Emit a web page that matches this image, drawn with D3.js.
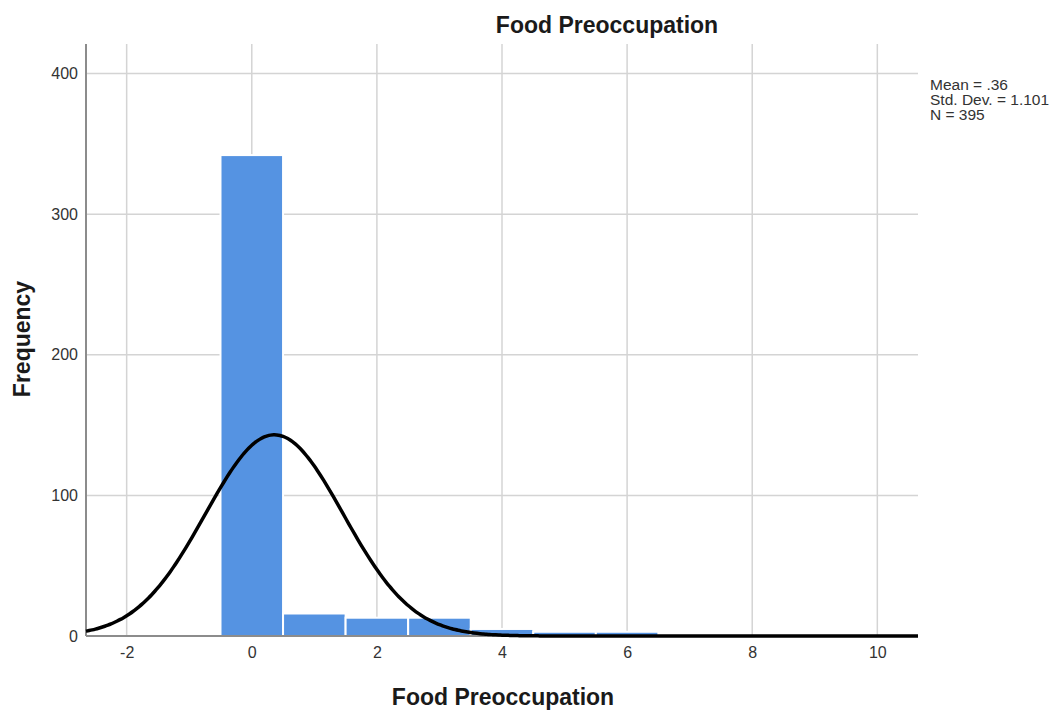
<html>
<head>
<meta charset="utf-8">
<title>Food Preoccupation</title>
<script type="text/javascript" src="https://cdn.jsdelivr.net/npm/d3@7"></script>
<style type="text/css">
body { margin: 0; background: white; }
text { font-family: "Liberation Sans", Arial, sans-serif; }
.grid line { stroke: #d4d4d4; stroke-width: 1.5px; }
.axis path, .axis line { display: none; }
.axis text { fill: #333; font-size: 16px; font-family: "Liberation Sans", Arial, sans-serif; }
</style>
</head>
<body>
<script>
// histogram bins (bin width 1, centred on integers)
var binCenters = [0, 1, 2, 3, 4, 5, 6];
var frequencies = [342, 16, 13, 13, 5, 3, 3];
var xTicks = [-2, 0, 2, 4, 6, 8, 10];
var yTicks = [0, 100, 200, 300, 400];
var stats = ["Mean = .36", "Std. Dev. = 1.101", "N = 395"];
var mean = 0.36, sd = 1.101, n = 395, binWidth = 1;

var width = 1057, height = 713;
var plotLeft = 86, plotRight = 918, plotTop = 44, plotBottom = 636;

var svg = d3.select("body").append("svg").attr("width", width).attr("height", height).style("background", "white");

var x = d3.scaleLinear().domain([-2.65, 10.65]).range([plotLeft, plotRight]);
var y = d3.scaleLinear().domain([0, 421]).range([plotBottom, plotTop]);

// gridlines
var grid = svg.append("g").attr("class", "grid");
grid.selectAll(".vx").data(xTicks).enter().append("line")
  .attr("x1", function(d){ return x(d); }).attr("x2", function(d){ return x(d); })
  .attr("y1", plotTop).attr("y2", plotBottom);
grid.selectAll(".hy").data(yTicks.slice(1)).enter().append("line")
  .attr("x1", plotLeft).attr("x2", plotRight)
  .attr("y1", function(d){ return y(d); }).attr("y2", function(d){ return y(d); });

// bars
svg.append("g").selectAll("rect").data(binCenters).enter().append("rect")
  .attr("x", function(d){ return x(d - binWidth / 2); })
  .attr("width", function(d){ return x(d + binWidth / 2) - x(d - binWidth / 2); })
  .attr("y", function(d, i){ return y(frequencies[i]); })
  .attr("height", function(d, i){ return y(0) - y(frequencies[i]); })
  .attr("fill", "#5593e2")
  .attr("stroke", "white")
  .attr("stroke-width", 2);

// axes lines
svg.append("line").attr("x1", plotLeft).attr("x2", plotLeft).attr("y1", plotTop).attr("y2", plotBottom)
  .attr("stroke", "#8c8c8c").attr("stroke-width", 2);
svg.append("line").attr("x1", plotLeft).attr("x2", plotRight).attr("y1", plotBottom).attr("y2", plotBottom)
  .attr("stroke", "#8c8c8c").attr("stroke-width", 2);

// normal curve
var curvePts = d3.range(-2.65, 10.651, 0.05).map(function(v){
  var z = (v - mean) / sd;
  return [v, n * binWidth / (sd * Math.sqrt(2 * Math.PI)) * Math.exp(-0.5 * z * z)];
});
var liner = d3.line()
  .x(function(d){ return x(d[0]); })
  .y(function(d){ return y(d[1]); })
  .curve(d3.curveBasis);
svg.append("path").datum(curvePts)
  .attr("d", liner)
  .attr("stroke", "black")
  .attr("stroke-width", 3.5)
  .attr("fill", "none");

// axis labels
svg.append("g").attr("class", "axis")
  .attr("transform", "translate(0," + (plotBottom + 2) + ")")
  .call(d3.axisBottom(x).tickValues(xTicks).tickSize(0).tickPadding(9)
    .tickFormat(function(d){ return String(d); }));
svg.append("g").attr("class", "axis")
  .attr("transform", "translate(" + (plotLeft - 2) + ",0)")
  .call(d3.axisLeft(y).tickValues(yTicks).tickSize(0).tickPadding(6));

// titles
svg.append("text").attr("x", 607).attr("y", 33).attr("text-anchor", "middle")
  .attr("font-size", 23).attr("font-weight", "bold").attr("fill", "#1a1a1a")
  .text("Food Preoccupation");
svg.append("text").attr("x", 503).attr("y", 705).attr("text-anchor", "middle")
  .attr("font-size", 23).attr("font-weight", "bold").attr("fill", "#1a1a1a")
  .text("Food Preoccupation");
svg.append("text").attr("transform", "translate(30,339) rotate(-90)").attr("text-anchor", "middle")
  .attr("font-size", 23).attr("font-weight", "bold").attr("fill", "#1a1a1a")
  .text("Frequency");

// stats legend
svg.append("g").selectAll("text").data(stats).enter().append("text")
  .attr("x", 930).attr("y", function(d, i){ return 90 + i * 15; })
  .attr("font-size", 15.5).attr("fill", "#333")
  .text(function(d){ return d; });
</script>
</body>
</html>
